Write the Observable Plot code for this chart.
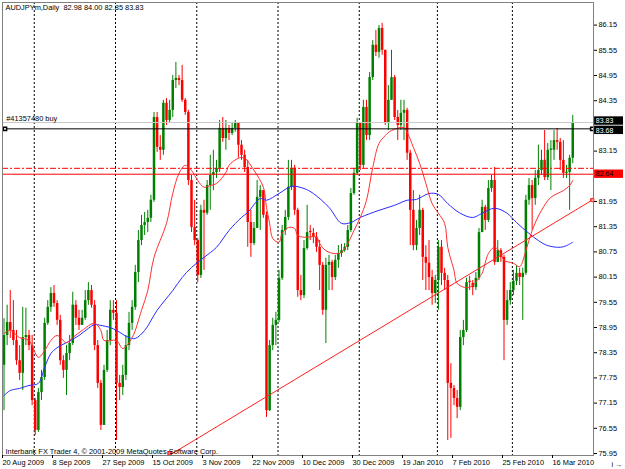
<!DOCTYPE html>
<html><head><meta charset="utf-8">
<script src="https://cdn.jsdelivr.net/npm/d3@7"></script>
<script src="https://cdn.jsdelivr.net/npm/@observablehq/plot@0.6"></script>
<style>html,body{margin:0;padding:0;background:#fff}#chart svg{display:block}</style>
</head><body><div id="chart"></div><script>
// Daily AUDJPYm bars (bar index 0 = 20 Aug 2009). Open = previous close.
const firstOpen = 78.05;
const closes = [78.76,79.07,78.88,78.64,78.16,77.86,78.71,78.76,78.52,77.21,
76.50,77.40,77.76,79.05,79.43,79.76,79.52,79.12,78.16,77.93,
78.33,78.57,79.48,79.17,79.00,79.17,79.59,79.83,79.48,78.52,
77.62,76.62,77.93,78.64,79.36,79.29,77.62,77.52,77.81,78.52,
79.05,79.43,80.26,81.02,81.38,81.45,81.55,81.98,83.95,83.24,
83.17,84.29,83.88,84.12,84.83,84.88,84.83,84.36,84.07,82.45,
81.33,81.02,80.19,81.74,81.67,82.33,82.57,82.64,82.74,83.69,
83.45,83.69,83.57,83.69,83.81,83.29,83.05,82.76,81.45,80.95,
81.31,82.05,82.21,81.62,76.97,78.52,79.00,79.12,80.12,81.26,
81.57,82.29,82.74,81.74,79.83,79.71,80.83,81.21,81.19,81.10,
80.86,80.43,79.36,80.43,80.50,80.14,80.55,80.71,80.78,80.86,
81.26,82.14,82.62,83.81,82.81,84.19,83.52,84.90,85.67,85.50,
86.07,85.55,83.83,84.36,84.90,83.95,83.76,84.05,84.12,83.10,
81.74,80.90,81.31,81.74,80.62,80.48,80.14,79.76,80.07,80.86,
80.24,80.07,77.62,77.50,77.26,77.05,78.71,78.88,80.02,80.00,
79.90,80.12,81.21,81.81,81.50,82.26,82.45,80.50,80.78,80.62,
79.12,79.59,79.83,80.05,80.24,80.14,80.24,81.98,82.33,82.02,
82.50,82.69,82.93,82.52,83.17,83.17,83.40,83.36,82.93,82.62,
82.64,82.98,83.83];
const highs = [79.16,79.48,79.83,79.59,78.88,78.52,79.43,79.41,78.88,78.76,
77.26,77.50,77.93,79.17,79.59,79.90,79.95,79.59,79.24,78.28,
78.52,78.76,79.79,79.59,79.36,79.36,79.83,80.02,79.95,79.59,
78.64,77.69,78.05,78.88,79.59,79.59,79.59,77.81,78.05,78.76,
79.31,79.59,80.43,81.26,81.62,81.69,81.74,82.10,84.07,84.07,
83.52,84.36,84.40,84.36,84.95,85.26,84.95,85.19,84.40,84.12,
82.57,81.98,81.07,81.86,81.98,82.45,83.05,83.17,82.93,83.88,
83.95,83.88,83.76,83.83,83.88,83.83,83.40,83.17,82.93,81.74,
81.45,82.45,82.33,82.21,81.70,78.64,79.17,79.31,80.31,81.38,
81.74,82.93,82.93,82.81,81.79,80.19,81.02,81.86,81.38,81.31,
81.21,81.02,80.50,80.60,80.67,80.55,80.67,80.90,80.93,80.95,
81.38,82.26,82.74,83.93,83.76,84.36,84.36,85.02,85.78,86.02,
86.14,86.19,85.55,84.71,85.55,84.95,84.12,84.36,84.36,84.17,
83.17,82.21,81.50,82.10,81.79,80.90,81.02,80.31,80.19,81.02,
81.02,80.36,80.19,78.09,77.57,77.45,78.88,79.12,80.12,80.17,
80.07,80.26,81.31,81.98,81.86,82.45,82.57,82.76,81.02,80.83,
80.67,79.83,80.02,80.31,80.43,80.36,80.36,82.10,82.50,82.45,
82.69,83.29,83.17,83.64,83.33,83.40,83.64,83.69,83.45,83.40,
82.81,83.05,84.00];
const lows = [76.97,78.52,78.69,78.52,78.05,77.69,77.45,78.52,78.40,77.09,
76.38,76.45,77.21,77.69,79.00,79.31,79.43,79.00,78.05,77.74,
77.33,78.16,78.52,79.00,78.88,79.07,79.12,79.48,79.41,78.40,
77.50,76.50,76.74,77.88,78.52,79.12,76.26,77.21,77.33,77.69,
78.40,78.88,79.36,80.02,80.90,81.14,81.21,81.45,81.93,83.12,
82.93,83.05,83.76,83.83,83.95,84.64,84.71,84.31,84.00,82.33,
81.21,80.90,80.02,80.12,80.31,81.62,81.74,82.21,82.50,82.64,
83.36,83.17,83.40,83.52,83.60,82.98,82.93,82.64,80.86,80.62,
80.90,81.31,81.26,81.55,76.81,76.95,78.40,78.52,79.07,80.07,
81.14,81.50,82.21,81.62,79.67,79.59,79.64,80.79,81.02,80.95,
80.74,79.83,79.24,78.57,79.83,79.83,80.07,80.36,80.62,80.74,
80.78,81.21,82.10,82.57,82.69,82.74,83.40,83.40,84.83,85.40,
85.36,85.43,83.76,83.64,84.36,83.88,83.40,83.64,83.40,82.93,
80.90,80.78,80.78,81.14,80.07,79.83,79.83,79.48,79.52,79.36,
79.95,79.83,76.26,76.31,77.09,76.78,76.97,78.52,78.83,79.83,
79.71,79.83,80.07,81.26,81.26,81.45,82.17,80.43,80.50,80.50,
78.16,79.00,79.48,79.71,79.95,79.95,79.12,80.19,81.86,81.26,
81.86,82.33,82.57,82.45,82.45,82.21,82.93,83.17,82.69,82.50,
82.50,81.74,82.85];

// Moving averages (bar index, price)
const fastIdx = [0,2,5,8,11,13,15,17,20,22,25,29,31,32,36,38,41,44,46,48,52,54,56,58,60,62,64,66,68,71,72,75,77,80,83,84,85,86,88,89,91,93,94,96,100,101,103,106,108,110,112,114,116,118,120,122,124,128,129,131,133,135,137,139,141,142,144,145,148,150,152,153,155,157,159,160,163,165,167,169,172,175,179,181,182];
const fastVal = [78.81,78.88,78.71,78.64,78.24,78.40,78.64,78.76,78.59,78.71,78.88,79.05,78.88,78.64,78.64,78.45,78.71,79.36,79.83,80.62,81.43,82.14,82.62,82.81,82.69,82.45,82.29,82.33,82.38,82.64,82.81,82.98,82.98,82.69,82.29,81.81,81.43,81.07,80.98,81.19,81.33,81.31,81.14,81.10,81.10,80.95,80.78,80.71,80.74,80.95,81.26,81.57,81.98,82.76,83.33,83.52,83.64,83.71,83.60,83.24,82.86,82.38,81.90,81.67,81.43,80.86,80.31,80.00,79.90,79.95,80.14,80.24,80.71,80.86,80.71,80.55,80.48,80.40,80.78,81.26,81.74,82.05,82.21,82.33,82.45];
const slowIdx = [0,2,5,8,11,13,15,17,20,24,27,29,31,34,36,40,42,45,49,54,57,60,64,68,72,76,78,82,84,88,92,96,99,104,108,111,114,120,125,129,132,136,139,142,146,150,153,157,161,164,168,171,174,178,180,182];
const slowVal = [77.33,77.45,77.50,77.57,77.62,78.00,78.33,78.47,78.59,78.76,78.93,79.02,79.00,78.95,78.88,78.71,78.69,78.88,79.36,79.83,80.14,80.38,80.62,80.86,81.26,81.57,81.69,82.02,81.98,82.14,82.31,82.26,82.14,81.81,81.43,81.45,81.57,81.74,81.86,81.98,82.00,82.14,82.12,81.90,81.67,81.57,81.67,81.79,81.67,81.45,81.19,81.02,80.90,80.86,80.90,80.98];

// Chart objects
const trendIdx = [53, 189];
const trendVal = [75.91, 82.02];
const bidLine = 83.83, orderLine = 83.68, redLine = 82.60, redDashLine = 82.74;
const boxValues = [83.68, 83.83, 82.60];
const boxLabels = ["83.68", "83.83", "82.64"];
const boxFills = ["#000", "#000", "#ff0000"];
const boxInk = ["#fff", "#fff", "#000"];
const boxShift = [1.5, -1.5, 0];

// Axes
const priceTicks = [86.15,85.55,84.95,84.35,83.15,81.95,81.35,80.75,80.15,79.55,78.95,78.35,77.75,77.15,76.55,75.95];
const dateIdx = [0,16,32,48,64,80,96,112,128,144,160,176];
const dateLabels = ["20 Aug 2009","8 Sep 2009","27 Sep 2009","15 Oct 2009","3 Nov 2009","22 Nov 2009","10 Dec 2009","30 Dec 2009","19 Jan 2010","7 Feb 2010","25 Feb 2010","16 Mar 2010"];
const monthIdx = [10,36,62,88,114,139,163];

const xDomain = [-0.48, 188.64];
const yDomain = [75.903, 86.688];

const bars = closes.map((c, i) => ({i, o: i === 0 ? firstOpen : closes[i - 1], h: highs[i], l: lows[i], c}));
const col = d => d.c >= d.o ? "#008000" : "#ff0000";
const fast = fastIdx.map((i, k) => ({i, v: fastVal[k]}));
const slow = slowIdx.map((i, k) => ({i, v: slowVal[k]}));
const trend = trendIdx.map((i, k) => ({i, v: trendVal[k]}));
const boxes = boxValues.map((v, k) => ({v, label: boxLabels[k], fill: boxFills[k], ink: boxInk[k], shift: boxShift[k]}));
const xr = xDomain[1];

const boxMarks = boxes.flatMap(b => [
  Plot.rect([b], {x1: xr + 0.35, x2: xr + 9.6, y1: d => d.v - 0.1, y2: d => d.v + 0.1, fill: b.fill, dy: b.shift}),
  Plot.text([b], {x: xr + 0.75, y: "v", text: "label", fill: b.ink, textAnchor: "start", dy: b.shift, fontSize: 7})
]);

const chart = Plot.plot({
  width: 625, height: 469,
  marginTop: 2, marginRight: 32, marginBottom: 14, marginLeft: 2,
  style: {fontFamily: "'Liberation Sans', Arial, sans-serif", fontSize: "7.4px", background: "#fff", color: "#000"},
  x: {type: "linear", domain: xDomain, axis: null},
  y: {domain: yDomain, axis: null},
  color: {type: "identity"},
  marks: [
    Plot.ruleX(monthIdx, {x: d => d, dx: -1, stroke: "#000", strokeDasharray: "2,2", strokeWidth: 1}),
    Plot.ruleX(bars, {x: "i", y1: d => Math.min(d.l, d.o, d.c), y2: d => Math.max(d.h, d.o, d.c), stroke: col, strokeWidth: 1}),
    Plot.ruleX(bars, {x: "i", y1: "o", y2: d => Math.abs(d.c - d.o) < 0.03 ? d.o + 0.03 : d.c, stroke: col, strokeWidth: 2.5}),
    Plot.line(slow, {x: "i", y: "v", stroke: "#2b2bff", strokeWidth: 1, curve: "catmull-rom"}),
    Plot.line(fast, {x: "i", y: "v", stroke: "#ff3030", strokeWidth: 1, curve: "catmull-rom"}),
    Plot.line(trend, {x: "i", y: "v", stroke: "#ff2020", strokeWidth: 1, clip: true}),
    Plot.ruleY([bidLine], {stroke: "#c8c8c8"}),
    Plot.ruleY([orderLine], {stroke: "#000"}),
    Plot.ruleY([redDashLine], {stroke: "#ff0000", strokeDasharray: "6,2,2,2"}),
    Plot.ruleY([redLine], {stroke: "#ff0000"}),
    Plot.dot([orderLine], {x: xDomain[0] + 0.8, y: d => d, symbol: "square", r: 1.8, stroke: "#000", fill: "#fff"}),
    Plot.dot([orderLine], {x: xr - 0.4, y: d => d, symbol: "square", r: 1.8, stroke: "#000", fill: "#fff"}),
    Plot.dot([trend[0]], {x: "i", y: d => yDomain[0] + 0.05, symbol: "square", r: 1.8, stroke: "#ff2020", fill: "#fff"}),
    Plot.dot([trend[1]], {x: xr - 0.4, y: d => trendVal[0] + (trendVal[1] - trendVal[0]) * (xr - 0.4 - trendIdx[0]) / (trendIdx[1] - trendIdx[0]), symbol: "circle", r: 1.6, stroke: "#ff2020", fill: "#fff"}),
    Plot.text(["#41357480 buy"], {x: xDomain[0] + 1.2, y: orderLine, dy: -8, textAnchor: "start", lineAnchor: "bottom", fill: "#000"}),
    Plot.frame({stroke: "#808080"}),
    Plot.axisY(priceTicks, {anchor: "right", tickSize: 3, tickPadding: 2, tickFormat: d => d.toFixed(2), stroke: "#000"}),
    Plot.axisX(dateIdx, {anchor: "bottom", tickSize: 3, tickPadding: 1, dx: -1.5, textAnchor: "start", tickFormat: d => dateLabels[dateIdx.indexOf(d)], stroke: "#000"}),
    ...boxMarks,
    Plot.text(["AUDJPYm,Daily  82.98 84.00 82.85 83.83"], {frameAnchor: "top-left", dx: 3, dy: 2, textAnchor: "start", lineAnchor: "top", fill: "#000"}),
    Plot.text(["Interbank FX Trader 4, \u00a9 2001-2009 MetaQuotes Software Corp."], {frameAnchor: "bottom-left", dx: 3, dy: -2, textAnchor: "start", lineAnchor: "bottom", fill: "#000"})
  ]
});
document.getElementById("chart").appendChild(chart);
</script></body></html>
